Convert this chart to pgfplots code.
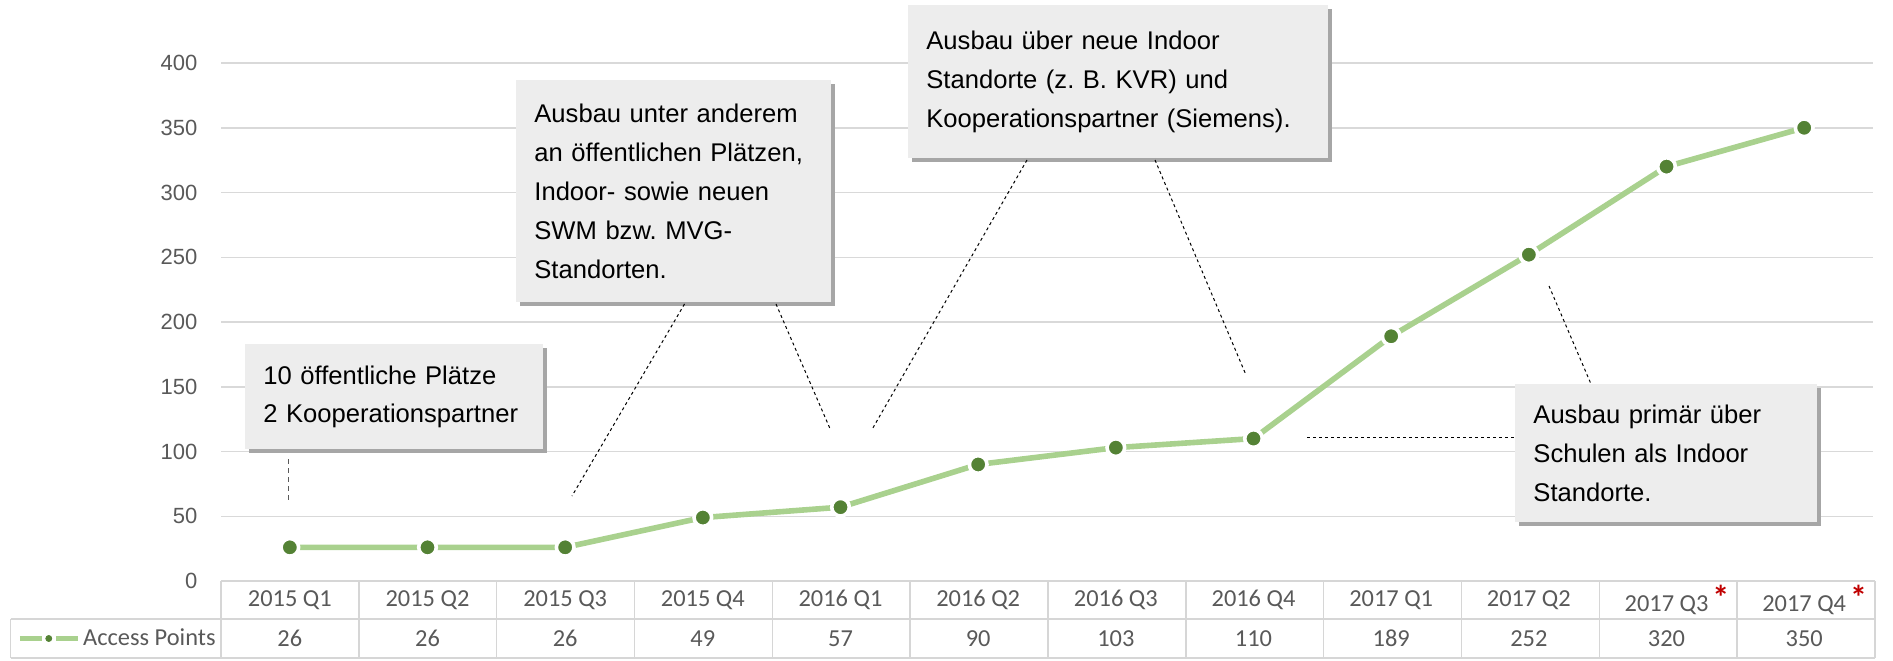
\documentclass[border=0pt]{standalone}
\usepackage{pgfplots}
\pgfplotsset{compat=1.18}
\usepackage{pgfplotstable}
\usepackage{fontspec}
\setmainfont{Liberation Sans}
\newfontfamily\carlito{Carlito}
\usetikzlibrary{shadows}
\frenchspacing
\definecolor{lgreen}{HTML}{A9D18E}
\definecolor{dgreen}{HTML}{548235}
\definecolor{gridgray}{HTML}{D9D9D9}
\definecolor{labelgray}{HTML}{595959}
\definecolor{boxfill}{HTML}{EDEDED}
\definecolor{shadowgray}{HTML}{A6A6A6}
\definecolor{astred}{HTML}{C00000}
\definecolor{tablegray}{HTML}{D6D6D6}

\pgfplotstableread{
x ap
0 26
1 26
2 26
3 49
4 57
5 90
6 103
7 110
8 189
9 252
10 320
11 350
}\apdata

\newcommand{\redast}{\rlap{\,\textcolor{astred}{\raisebox{0.15ex}{\fontsize{17}{17}\selectfont\bfseries *}}}}
\newcommand{\tl}[1]{\mbox{\carlito\fontsize{12.2}{14}\selectfont #1}}

\begin{document}
\begin{tikzpicture}[
  callout/.style={fill=boxfill, draw=none, anchor=north west, inner xsep=9pt, inner ysep=0pt,
    align=left, font=\fontsize{12.8}{19.4}\selectfont, text=black,
    drop shadow={fill=shadowgray, opacity=1, shadow xshift=2pt, shadow yshift=-2pt}},
  leader/.style={black, line width=0.5pt, dash pattern=on 1.5pt off 1.5pt},
  tab/.style={tablegray, line width=0.8pt}
]
\path (0pt,0pt) rectangle (946.5pt,330pt);
\begin{axis}[
  at={(110.5pt,39.5pt)}, anchor=south west,
  scale only axis, width=826pt, height=259pt,
  xmin=-0.5, xmax=11.5, ymin=0, ymax=400,
  ytick={0,50,...,400},
  xtick={0,...,11},
  xticklabels={\tl{2015 Q1},\tl{2015 Q2},\tl{2015 Q3},\tl{2015 Q4},\tl{2016 Q1},\tl{2016 Q2},\tl{2016 Q3},\tl{2016 Q4},\tl{2017 Q1},\tl{2017 Q2},\tl{2017 Q3\redast},\tl{2017 Q4\redast}},
  ymajorgrids, grid style={gridgray, line width=0.75pt},
  axis line style={draw=none},
  major tick length=0pt,
  clip=false,
  /pgf/number format/assume math mode=true,
  yticklabel style={font=\fontsize{11}{13}\selectfont, text=labelgray, xshift=-8.3pt},
  xticklabel style={text=labelgray, anchor=center, yshift=-9.5pt},
  legend style={at={(-0.1235,-0.111)}, anchor=west, draw=none, fill=none, inner sep=0pt,
    font=\carlito\fontsize{12.2}{14}\selectfont\color{labelgray},
    nodes={inner xsep=1.5pt}},
]
\addplot[forget plot, lgreen, line width=2.8pt, mark=*, mark size=4.4pt,
  mark options={fill=dgreen, draw=white, line width=1.8pt}]
  table[x=x, y=ap] {\apdata};
\addlegendimage{legend image code/.code={
    \draw[lgreen, line width=2.4pt] (0pt,0pt) -- (11pt,0pt);
    \draw[lgreen, line width=2.4pt] (18pt,0pt) -- (29pt,0pt);
    \fill[dgreen] (14.5pt,0pt) circle (1.5pt);
  }}
\addlegendentry{Access Points}
\end{axis}

% table grid
\draw[tab] (110.5pt,39.5pt) -- (937.5pt,39.5pt);
\draw[tab] (5.3pt,20.5pt) -- (937.5pt,20.5pt);
\draw[tab] (5.3pt,1pt) -- (937.5pt,1pt);
\draw[tab] (5.3pt,1pt) -- (5.3pt,20.5pt);
\foreach \k in {0,...,12}{
  \draw[tab] ({110.5pt+\k*68.9167pt},39.5pt) -- ({110.5pt+\k*68.9167pt},1pt);
}
\foreach \i in {0,...,11}{
  \pgfplotstablegetelem{\i}{ap}\of\apdata
  \node[font=\carlito\fontsize{12.2}{14}\selectfont, text=labelgray] at ({110.5pt+(\i+0.5)*68.8333pt},10.75pt) {\pgfplotsretval};
}

% callouts
\node[callout, minimum width=149pt, minimum height=52.5pt, text width=131pt] at (122.5pt,158pt)
  {10 öffentliche Plätze\\2 Kooperationspartner};
\node[callout, minimum width=157.5pt, minimum height=111pt, text width=139.5pt] at (258pt,290pt)
  {Ausbau unter anderem\\an öffentlichen Plätzen,\\Indoor- sowie neuen\\SWM bzw. MVG-\\Standorten.};
\node[callout, minimum width=210pt, minimum height=76.5pt, text width=192pt] at (454pt,327.5pt)
  {Ausbau über neue Indoor\\Standorte (z. B. KVR) und\\Kooperationspartner (Siemens).};
\node[callout, minimum width=151pt, minimum height=69pt, text width=133pt] at (757.5pt,138pt)
  {Ausbau primär über\\Schulen als Indoor\\Standorte.};

% leader lines
\draw[black!65, line width=0.7pt, dash pattern=on 2.5pt off 2pt] (144.25pt,100.5pt) -- (144.25pt,78.5pt);
\draw[leader] (342.25pt,178pt) -- (286pt,82pt);
\draw[leader] (388pt,178pt) -- (415.3pt,115pt);
\draw[leader] (513.5pt,250pt) -- (435.85pt,115pt);
\draw[leader] (577.5pt,250pt) -- (623pt,142.5pt);
\draw[leader] (653.5pt,111.5pt) -- (757.5pt,111.5pt);
\draw[leader] (774.5pt,187pt) -- (795.5pt,138pt);
\end{tikzpicture}
\end{document}
